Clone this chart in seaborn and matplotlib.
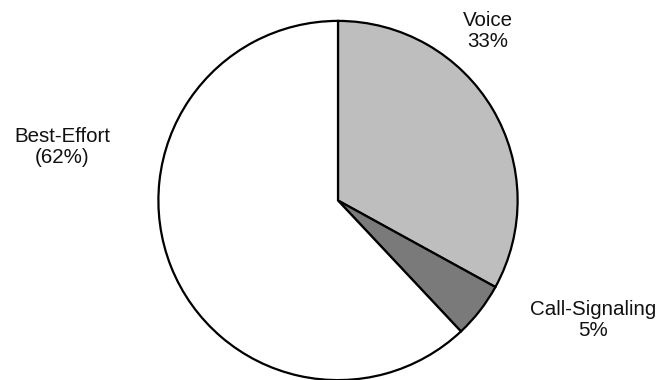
import matplotlib
matplotlib.use("Agg")
import matplotlib.pyplot as plt
import seaborn as sns

# traffic share data
categories = ["Voice", "Call-Signaling", "Best-Effort"]
shares = [33, 5, 62]
label_texts = ["Voice\n33%", "Call-Signaling\n5%", "Best-Effort\n(62%)"]
colors = ["#bebebe", "#7a7a7a", "#ffffff"]

sns.set_theme(style="white")
plt.rcParams['font.family'] = ['Liberation Sans', 'DejaVu Sans']

fig = plt.figure(figsize=(6.62, 3.8), dpi=100)
ax = fig.add_axes([157.5 / 662, -1 / 380, 361 / 662, 361 / 380])

ax.pie(
    shares,
    colors=colors,
    startangle=90,
    counterclock=False,
    wedgeprops={'edgecolor': 'black', 'linewidth': 1.6},
)
ax.set_xlim(-1.005, 1.005)
ax.set_ylim(-1.005, 1.005)
ax.set_aspect('equal')
ax.axis('off')

# label positions in figure pixels (x, y from top)
label_pos = [(488, 31), (593, 320), (62, 147)]
for txt, (px, py) in zip(label_texts, label_pos):
    fig.text(px / 662, 1 - py / 380, txt, ha='center', va='center',
             fontsize=14.8, linespacing=1.1, color='#111111')

fig.savefig("out.png", dpi=100)
